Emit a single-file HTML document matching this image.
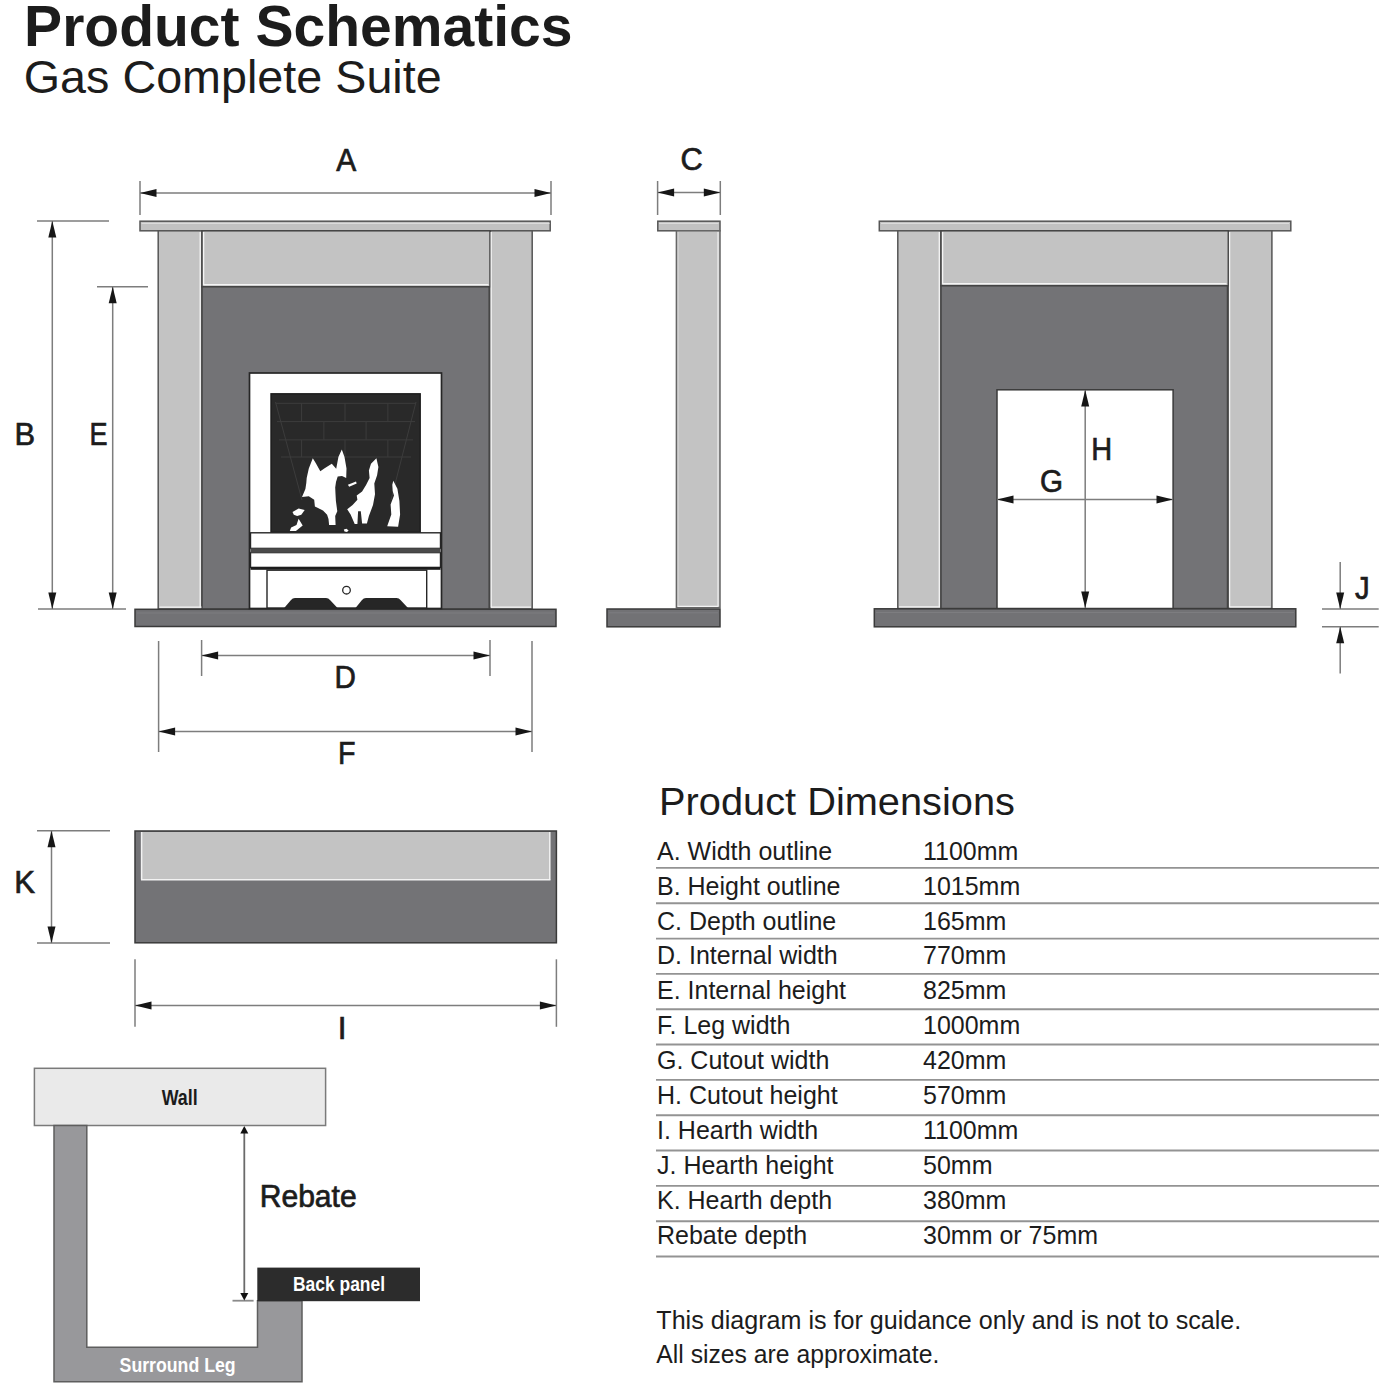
<!DOCTYPE html>
<html><head><meta charset="utf-8">
<style>
html,body{margin:0;padding:0;background:#fff;width:1400px;height:1400px;overflow:hidden}
svg{display:block}
text{font-family:"Liberation Sans",sans-serif;fill:#1c1c1c}
</style></head><body>
<svg width="1400" height="1400" viewBox="0 0 1400 1400">
<defs>
  <path id="ar" d="M0,0 L16.5,-4 L16.5,4 Z" fill="#161616"/>
  <path id="ar2" d="M0,0 L7.5,-4 L7.5,4 Z" fill="#111"/>
</defs>
<rect width="1400" height="1400" fill="#fff"/>

<text x="24.1" y="45.9" font-size="57" font-weight="bold" textLength="548.4" lengthAdjust="spacingAndGlyphs">Product Schematics</text>
<text x="23.8" y="93.4" font-size="45.8" textLength="417.9" lengthAdjust="spacingAndGlyphs">Gas Complete Suite</text>
<!-- LEFT FIREPLACE -->
<rect x="140" y="221.2" width="410.20" height="9.60" fill="#c2c2c2" stroke="#555" stroke-width="1.5"/>
<line x1="141.5" y1="223.5" x2="549.5" y2="223.5" stroke="#dcdcdc" stroke-width="1.0"/>
<rect x="158.2" y="230.8" width="43.80" height="378.20" fill="#c3c3c3" stroke="#555" stroke-width="1.5"/>
<rect x="490" y="230.8" width="42.20" height="378.20" fill="#c3c3c3" stroke="#555" stroke-width="1.5"/>
<rect x="202" y="230.8" width="288.00" height="56.00" fill="#c3c3c3" stroke="#444" stroke-width="1.5"/>
<rect x="202" y="286.8" width="287.20" height="322.20" fill="#737376" stroke="#444" stroke-width="1.5"/>
<line x1="200.2" y1="232" x2="200.2" y2="607.5" stroke="#f4f4f4" stroke-width="1.3"/>
<line x1="159.5" y1="607.2" x2="201.5" y2="607.2" stroke="#f4f4f4" stroke-width="1.3"/>
<line x1="203.6" y1="232" x2="203.6" y2="285" stroke="#f4f4f4" stroke-width="1.3"/>
<line x1="204" y1="284.6" x2="488.5" y2="284.6" stroke="#f4f4f4" stroke-width="1.3"/>
<line x1="491.2" y1="232" x2="491.2" y2="607.5" stroke="#f4f4f4" stroke-width="1.3"/>
<line x1="491" y1="607.2" x2="531" y2="607.2" stroke="#f4f4f4" stroke-width="1.3"/>
<rect x="135" y="609.3" width="421.00" height="17.20" fill="#727275" stroke="#3a3a3a" stroke-width="1.5"/>
<line x1="137" y1="613" x2="554" y2="613" stroke="#7d7d80" stroke-width="1.0"/>
<!-- FIRE INSERT -->
<g>
  <rect x="249.5" y="373" width="192" height="235.5" fill="#fff" stroke="#262626" stroke-width="1.7"/>
  <rect x="271" y="393.8" width="149.2" height="138.6" fill="#292929" stroke="#1c1c1c" stroke-width="1.4"/>
  <g stroke="#3c3c3c" stroke-width="1" fill="none">
    <path d="M276,403.3 H416 M277,421.6 H415 M279,439.9 H413 M281,457 H411"/>
    <path d="M301.6,403.3 V421.6 M345,403.3 V421.6 M387.9,403.3 V421.6"/>
    <path d="M323.9,421.6 V439.9 M366.1,421.6 V439.9"/>
    <path d="M301.6,439.9 V457 M345,439.9 V457 M387.9,439.9 V457"/>
    <path d="M275.5,402 L302,500 M416,402 L391,500"/>
  </g>

  <g fill="#fff">
    <path d="M312.8,458.3 L316,463.5 L320.3,471.2 L325,468 L331.8,463.8 L336.2,468.8 L338.4,457 L341.8,449.5 L344.5,457 L346.5,468.5 L346.2,478 L342,476 L337.7,476.6 L336,482 L335.2,487.5 L335.5,494 L335.9,501.1 L337.3,511.3 L335.2,516 L335.6,524.9 L329.1,524.9 L328.5,519 L327.1,514.7 L323,510.6 L318,508 L314.9,506.5 L314.2,499.7 L308.8,496.3 L302,497 L305.4,488.9 L306.3,483 L306.7,478 L308.8,468.5 Z"/>
    <path d="M292.5,512 L298.6,508.6 L304.7,510 L301.3,514.7 L297.2,516 L293.8,514.7 Z"/>
    <path d="M298.6,518.8 L302.7,525.5 L295.9,531 L289.8,531 L291.1,527.6 L296.5,524.9 Z"/>
    <path d="M347.9,484.8 L356,481.4 L356.7,483.4 L349.2,486.8 Z"/>
    <path d="M376.4,458.3 L378.4,467.1 L377.1,475.3 L374.3,483.4 L375,494.3 L373,505.1 L368.9,516 L366.9,523.4 L362.1,523.4 L360.8,511.2 L358.1,511.2 L357.4,524.1 L354.7,524.1 L350.6,514.6 L347.2,509.2 L352.6,505.1 L357.4,499.7 L356.7,495.6 L362.1,491.6 L366.2,484.8 L369.6,478 L368.9,470.5 L371,463.7 Z"/>
    <path d="M393.3,480.7 L397.4,488.8 L399.4,501.1 L400.1,514.6 L398.1,526.8 L387.2,526.2 L391.3,514.6 L390.6,504.5 L394,495.6 L392.7,490.9 L392.3,484.8 Z"/>
    <path d="M343.8,529.6 L346.5,528.8 L348.6,530.5 L347,532 L344.5,531.6 Z"/>
  </g>
  <g stroke="#262626" stroke-width="1.4">
    <rect x="250.5" y="532.8" width="190" height="15.6" fill="#fff"/>
    <rect x="250.5" y="552.6" width="190" height="14.8" fill="#fff"/>
  </g>
  <rect x="250.5" y="548.2" width="190" height="4.6" fill="#4a4a4a"/>
  <rect x="250.5" y="567" width="190" height="2.8" fill="#1c1c1c"/>
  <rect x="267" y="570.2" width="159.7" height="37.8" fill="#fff" stroke="#262626" stroke-width="1.4"/>
  <circle cx="346.5" cy="590.2" r="3.8" fill="#fff" stroke="#262626" stroke-width="1.3"/>
  <path d="M284.2,608 L291,600 Q292.5,598 295,598 L326,598 Q328.5,598 330,600 L337.5,608 Z" fill="#262626"/>
  <path d="M355.5,608 L362,600 Q363.5,598 366,598 L396.5,598 Q399,598 400.5,600 L408,608 Z" fill="#262626"/>
</g>
<!-- SIDE VIEW -->
<rect x="657.8" y="221.2" width="62.20" height="9.60" fill="#c2c2c2" stroke="#555" stroke-width="1.5"/>
<line x1="659" y1="223.5" x2="718.5" y2="223.5" stroke="#dcdcdc" stroke-width="1.0"/>
<rect x="676.4" y="230.8" width="43.60" height="376.70" fill="#c3c3c3" stroke="#666" stroke-width="1.5"/>
<line x1="678.2" y1="232" x2="678.2" y2="606" stroke="#d6d6d6" stroke-width="1.0"/>
<line x1="718" y1="232" x2="718" y2="606" stroke="#efefef" stroke-width="1.2"/>
<line x1="677.5" y1="606.3" x2="718.5" y2="606.3" stroke="#f4f4f4" stroke-width="1.3"/>
<rect x="607" y="609" width="113.00" height="17.80" fill="#727275" stroke="#3a3a3a" stroke-width="1.5"/>
<line x1="609" y1="612.8" x2="718" y2="612.8" stroke="#7d7d80" stroke-width="1.0"/>
<!-- RIGHT FIREPLACE -->
<rect x="879.3" y="221.2" width="411.50" height="9.60" fill="#c2c2c2" stroke="#555" stroke-width="1.5"/>
<line x1="881" y1="223.5" x2="1289" y2="223.5" stroke="#dcdcdc" stroke-width="1.0"/>
<rect x="897.8" y="230.8" width="43.20" height="377.70" fill="#c3c3c3" stroke="#555" stroke-width="1.5"/>
<rect x="1228.3" y="230.8" width="43.60" height="377.70" fill="#c3c3c3" stroke="#555" stroke-width="1.5"/>
<rect x="941" y="230.8" width="287.30" height="55.00" fill="#c3c3c3" stroke="#444" stroke-width="1.5"/>
<rect x="941" y="285.8" width="286.50" height="322.70" fill="#737376" stroke="#444" stroke-width="1.5"/>
<rect x="997" y="389.8" width="176.10" height="218.70" fill="#fff" stroke="#3a3a3a" stroke-width="1.5"/>
<line x1="939.3" y1="232" x2="939.3" y2="607" stroke="#f4f4f4" stroke-width="1.3"/>
<line x1="899" y1="606.8" x2="940" y2="606.8" stroke="#f4f4f4" stroke-width="1.3"/>
<line x1="942.6" y1="232" x2="942.6" y2="284" stroke="#f4f4f4" stroke-width="1.3"/>
<line x1="943" y1="283.6" x2="1226.5" y2="283.6" stroke="#f4f4f4" stroke-width="1.3"/>
<line x1="1229.6" y1="232" x2="1229.6" y2="607" stroke="#f4f4f4" stroke-width="1.3"/>
<line x1="1229.5" y1="606.8" x2="1270.5" y2="606.8" stroke="#f4f4f4" stroke-width="1.3"/>
<rect x="874.3" y="608.8" width="421.50" height="18.00" fill="#727275" stroke="#3a3a3a" stroke-width="1.5"/>
<line x1="876" y1="612.5" x2="1294" y2="612.5" stroke="#7d7d80" stroke-width="1.0"/>
<!-- HEARTH PLAN -->
<rect x="135" y="831" width="421.40" height="111.80" fill="#737376" stroke="#3a3a3a" stroke-width="1.5"/>
<rect x="141.4" y="832" width="408.60" height="47.70" fill="#c3c3c3" stroke="none" stroke-width="0"/>
<line x1="141.6" y1="832" x2="141.6" y2="879.5" stroke="#f2f2f2" stroke-width="1.5"/>
<line x1="549.8" y1="832" x2="549.8" y2="879.5" stroke="#f2f2f2" stroke-width="1.5"/>
<line x1="141" y1="879.8" x2="550.5" y2="879.8" stroke="#f2f2f2" stroke-width="1.5"/>
<!-- DIMS -->
<g stroke="#7d7d7d" stroke-width="1.5" fill="none">
  <line x1="140" y1="181" x2="140" y2="215"/>
  <line x1="551" y1="181" x2="551" y2="215"/>
  <line x1="140" y1="193" x2="551" y2="193"/>
  <line x1="37" y1="221" x2="109" y2="221"/>
  <line x1="38" y1="609" x2="126" y2="609"/>
  <line x1="52.3" y1="221" x2="52.3" y2="609"/>
  <line x1="97" y1="286.8" x2="148" y2="286.8"/>
  <line x1="112.7" y1="286.8" x2="112.7" y2="609"/>
  <line x1="201.6" y1="640" x2="201.6" y2="676"/>
  <line x1="490" y1="640" x2="490" y2="676"/>
  <line x1="201.6" y1="655.4" x2="490" y2="655.4"/>
  <line x1="158.6" y1="641" x2="158.6" y2="752"/>
  <line x1="532" y1="641" x2="532" y2="752"/>
  <line x1="158.6" y1="731.5" x2="532" y2="731.5"/>
  <line x1="657.6" y1="181" x2="657.6" y2="215"/>
  <line x1="720.3" y1="181" x2="720.3" y2="215"/>
  <line x1="657.6" y1="192.6" x2="720.3" y2="192.6"/>
  <line x1="997" y1="499.5" x2="1173" y2="499.5"/>
  <line x1="1085.2" y1="390" x2="1085.2" y2="608"/>
  <line x1="1340.2" y1="562" x2="1340.2" y2="608.9"/>
  <line x1="1340.2" y1="626.8" x2="1340.2" y2="673.5"/>
  <line x1="1322" y1="608.9" x2="1378.7" y2="608.9"/>
  <line x1="1322" y1="626.8" x2="1378.7" y2="626.8"/>
  <line x1="37" y1="830.7" x2="110" y2="830.7"/>
  <line x1="37" y1="943.1" x2="110" y2="943.1"/>
  <line x1="51.5" y1="830.7" x2="51.5" y2="943.1"/>
  <line x1="135" y1="959.3" x2="135" y2="1026.8"/>
  <line x1="556.4" y1="959.3" x2="556.4" y2="1026.8"/>
  <line x1="135" y1="1005.4" x2="556.4" y2="1005.4"/>
</g>
<g>
  <use href="#ar" transform="translate(140,193) rotate(0)"/>
  <use href="#ar" transform="translate(551,193) rotate(180)"/>
  <use href="#ar" transform="translate(52.3,221) rotate(90)"/>
  <use href="#ar" transform="translate(52.3,609) rotate(-90)"/>
  <use href="#ar" transform="translate(112.7,286.8) rotate(90)"/>
  <use href="#ar" transform="translate(112.7,609) rotate(-90)"/>
  <use href="#ar" transform="translate(201.6,655.4) rotate(0)"/>
  <use href="#ar" transform="translate(490,655.4) rotate(180)"/>
  <use href="#ar" transform="translate(158.6,731.5) rotate(0)"/>
  <use href="#ar" transform="translate(532,731.5) rotate(180)"/>
  <use href="#ar" transform="translate(657.6,192.6) rotate(0)"/>
  <use href="#ar" transform="translate(720.3,192.6) rotate(180)"/>
  <use href="#ar" transform="translate(997,499.5) rotate(0)"/>
  <use href="#ar" transform="translate(1173,499.5) rotate(180)"/>
  <use href="#ar" transform="translate(1085.2,390) rotate(90)"/>
  <use href="#ar" transform="translate(1085.2,608) rotate(-90)"/>
  <use href="#ar" transform="translate(1340.2,608.9) rotate(-90)"/>
  <use href="#ar" transform="translate(1340.2,626.8) rotate(90)"/>
  <use href="#ar" transform="translate(51.5,830.7) rotate(90)"/>
  <use href="#ar" transform="translate(51.5,943.1) rotate(-90)"/>
  <use href="#ar" transform="translate(135,1005.4) rotate(0)"/>
  <use href="#ar" transform="translate(556.4,1005.4) rotate(180)"/>
</g>
<g font-size="31.5" stroke="#1c1c1c" stroke-width="0.7">
  <text transform="translate(336,170.9) scale(0.95,1)" x="0.29" y="0">A</text>
  <text transform="translate(16.7,444.8) scale(0.98,1)" x="-2.23" y="0">B</text>
  <text transform="translate(91.5,444.8) scale(0.86,1)" x="-2.23" y="0">E</text>
  <text transform="translate(681.8,170.0) scale(0.98,1)" x="-1.25" y="0">C</text>
  <text transform="translate(336.5,688.3) scale(0.94,1)" x="-2.23" y="0">D</text>
  <text transform="translate(340,764.1) scale(0.91,1)" x="-2.23" y="0">F</text>
  <text transform="translate(1041.2,492.4) scale(0.94,1)" x="-1.23" y="0">G</text>
  <text transform="translate(1093.3,460.2) scale(0.92,1)" x="-2.23" y="0">H</text>
  <text transform="translate(1355,598.9) scale(0.93,1)" x="-0.14" y="0">J</text>
  <text transform="translate(16.5,893.0) scale(0.99,1)" x="-2.23" y="0">K</text>
  <text transform="translate(340.3,1039.0) scale(1.0,1)" x="-2.56" y="0">I</text>
</g>
<!-- REBATE -->
<line x1="244.3" y1="1128" x2="244.3" y2="1296" stroke="#6a6a6a" stroke-width="1.8"/>
<line x1="232.5" y1="1300.7" x2="253.6" y2="1300.7" stroke="#8a8a8a" stroke-width="1.8"/>
<use href="#ar2" transform="translate(244.3,1126) rotate(90)"/>
<use href="#ar2" transform="translate(244.3,1300.5) rotate(-90)"/>
<g stroke="#5a5a5a" stroke-width="1.5">
  <rect x="34.4" y="1068.3" width="291.2" height="57.2" fill="#eaeaea" stroke="#7a7a7a"/>
  <path d="M54,1125.5 H86.8 V1347.3 H257.5 V1300.7 H302 V1381.7 H54 Z" fill="#98989b" stroke="#5e5e5e"/>
</g>
<rect x="257.3" y="1267.6" width="162.7" height="33.6" fill="#2c2c2c"/>
<text x="161.7" y="1104.6" font-size="22" font-weight="bold" textLength="36" lengthAdjust="spacingAndGlyphs">Wall</text>
<text x="293" y="1291" font-size="21" font-weight="bold" textLength="92" lengthAdjust="spacingAndGlyphs" style="fill:#fff">Back panel</text>
<text x="119.6" y="1372.4" font-size="20" font-weight="bold" textLength="116" lengthAdjust="spacingAndGlyphs" style="fill:#fff">Surround Leg</text>
<text x="259.7" y="1206.5" font-size="31" textLength="97" lengthAdjust="spacingAndGlyphs" stroke="#1c1c1c" stroke-width="0.7">Rebate</text>
<!-- TABLE -->
<text x="659" y="815" font-size="39.5" textLength="356" lengthAdjust="spacingAndGlyphs">Product Dimensions</text>
<g font-size="25">
  <text x="657" y="859.5">A. Width outline</text><text x="923" y="859.5">1100mm</text>
  <text x="657" y="894.5">B. Height outline</text><text x="923" y="894.5">1015mm</text>
  <text x="657" y="929.5">C. Depth outline</text><text x="923" y="929.5">165mm</text>
  <text x="657" y="964.4">D. Internal width</text><text x="923" y="964.4">770mm</text>
  <text x="657" y="999.4">E. Internal height</text><text x="923" y="999.4">825mm</text>
  <text x="657" y="1034.4">F. Leg width</text><text x="923" y="1034.4">1000mm</text>
  <text x="657" y="1069.4">G. Cutout width</text><text x="923" y="1069.4">420mm</text>
  <text x="657" y="1104.4">H. Cutout height</text><text x="923" y="1104.4">570mm</text>
  <text x="657" y="1139.3">I. Hearth width</text><text x="923" y="1139.3">1100mm</text>
  <text x="657" y="1174.3">J. Hearth height</text><text x="923" y="1174.3">50mm</text>
  <text x="657" y="1209.3">K. Hearth depth</text><text x="923" y="1209.3">380mm</text>
  <text x="657" y="1244.3">Rebate depth</text><text x="923" y="1244.3">30mm or 75mm</text>
</g>
<g stroke="#939393" stroke-width="1.9">
  <line x1="656" y1="867.9" x2="1379" y2="867.9"/>
  <line x1="656" y1="903.2" x2="1379" y2="903.2"/>
  <line x1="656" y1="938.6" x2="1379" y2="938.6"/>
  <line x1="656" y1="973.9" x2="1379" y2="973.9"/>
  <line x1="656" y1="1009.2" x2="1379" y2="1009.2"/>
  <line x1="656" y1="1044.5" x2="1379" y2="1044.5"/>
  <line x1="656" y1="1079.9" x2="1379" y2="1079.9"/>
  <line x1="656" y1="1115.2" x2="1379" y2="1115.2"/>
  <line x1="656" y1="1150.5" x2="1379" y2="1150.5"/>
  <line x1="656" y1="1185.9" x2="1379" y2="1185.9"/>
  <line x1="656" y1="1221.2" x2="1379" y2="1221.2"/>
  <line x1="656" y1="1256.5" x2="1379" y2="1256.5"/>
</g>
<text x="656.3" y="1329.4" font-size="25" textLength="585" lengthAdjust="spacingAndGlyphs">This diagram is for guidance only and is not to scale.</text>
<text x="656.3" y="1363" font-size="25" textLength="283" lengthAdjust="spacingAndGlyphs">All sizes are approximate.</text>
</svg>
</body></html>
